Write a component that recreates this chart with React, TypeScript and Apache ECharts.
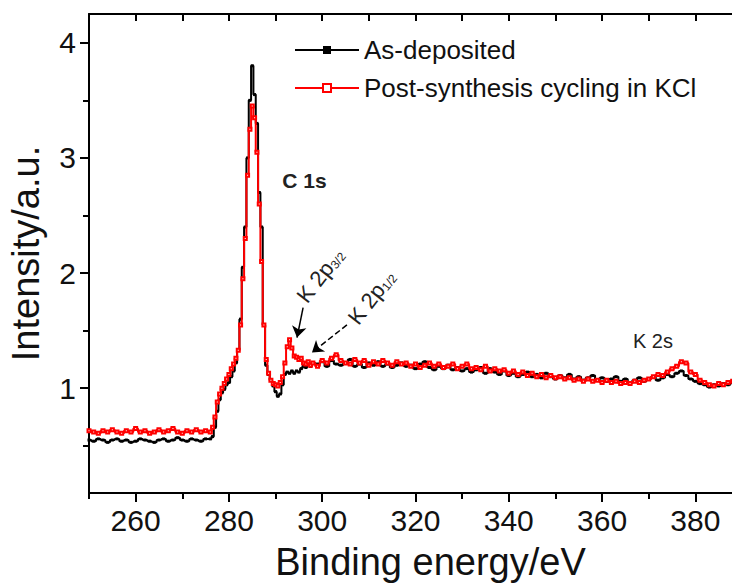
import React, { useEffect, useRef } from "react";
import * as echarts from "echarts";

// Binding energies (eV)
const energies: number[] = [
  250, 251, 252, 253, 254, 255, 256, 257, 258, 259, 260, 261, 262, 263, 264, 265, 266, 267, 268, 269, 270, 271, 272, 273, 274, 275,
  276, 276.5, 277, 277.5, 278, 278.5, 279, 279.5, 280, 280.5, 281, 281.5, 282, 282.5, 283, 283.5, 284, 284.5, 285, 285.5,
  286, 286.5, 287, 287.5, 288, 288.5, 289, 289.5, 290, 290.5, 291, 291.5, 292, 292.5, 293, 293.5, 294, 294.5, 295, 295.5,
  296, 296.5, 297, 297.5, 298,
  299, 300, 301, 302, 303, 304, 305, 306, 307, 308, 309, 310, 311, 312, 313, 314, 315, 316, 317, 318, 319, 320,
  321, 322, 323, 324, 325, 326, 327, 328, 329, 330, 331, 332, 333, 334, 335, 336, 337, 338, 339, 340,
  341, 342, 343, 344, 345, 346, 347, 348, 349, 350, 351, 352, 353, 354, 355, 356, 357, 358, 359, 360,
  361, 362, 363, 364, 365, 366, 367, 368, 369, 370, 371, 372, 373, 374, 375, 376, 377, 378, 379, 380,
  381, 382, 383, 384, 385, 386, 387, 388, 389, 390,
];

// As-deposited
const asDeposited: number[] = [
  0.55, 0.54, 0.56, 0.55, 0.53, 0.55, 0.56, 0.54, 0.55, 0.53, 0.54, 0.56, 0.55, 0.54, 0.53, 0.55, 0.56, 0.54, 0.55, 0.57, 0.55, 0.54, 0.56, 0.55, 0.54, 0.56,
  0.56, 0.58, 0.66, 0.8, 0.9, 0.96, 0.99, 1.03, 1.05, 1.1, 1.15, 1.22, 1.33, 1.6, 2.05, 2.4, 3.0, 3.5, 3.8, 3.55,
  3.3, 2.7, 2.4, 1.55, 1.2, 1.12, 1.07, 1.02, 0.97, 0.93, 0.95, 1.03, 1.12, 1.14, 1.13, 1.15, 1.13, 1.15, 1.14, 1.17,
  1.19, 1.18, 1.21, 1.19, 1.22,
  1.21, 1.23, 1.19, 1.24, 1.21, 1.2, 1.22, 1.25, 1.19, 1.21, 1.18, 1.22, 1.2, 1.23, 1.19, 1.21, 1.18, 1.2, 1.22, 1.19, 1.2, 1.17,
  1.21, 1.23, 1.18, 1.16, 1.19, 1.17, 1.2, 1.16, 1.18, 1.15, 1.17, 1.14, 1.16, 1.18, 1.13, 1.17, 1.14, 1.12, 1.15, 1.11,
  1.13, 1.1, 1.12, 1.14, 1.1, 1.12, 1.09, 1.13, 1.1, 1.08, 1.11, 1.09, 1.12, 1.08, 1.1, 1.07, 1.09, 1.11, 1.07, 1.09,
  1.06, 1.08, 1.1, 1.06, 1.08, 1.05, 1.07, 1.09, 1.06, 1.08, 1.1, 1.07, 1.09, 1.12, 1.1, 1.13, 1.15, 1.11, 1.08, 1.06,
  1.04, 1.03, 1.01, 1.03, 1.02, 1.04, 1.03, 1.05, 1.04, 1.06,
];

// Post-synthesis cycling in KCl
const cycledKCl: number[] = [
  0.63, 0.62, 0.61, 0.63, 0.62, 0.64, 0.62, 0.61, 0.63, 0.62, 0.65, 0.62, 0.63, 0.61, 0.62, 0.64, 0.62, 0.63, 0.65, 0.62, 0.61, 0.63, 0.62, 0.64, 0.62, 0.63,
  0.62, 0.66, 0.75, 0.88, 0.95, 1.0, 1.04, 1.08, 1.12, 1.17, 1.21, 1.26, 1.33, 1.55, 1.95, 2.3, 2.85, 3.25, 3.45, 3.35,
  3.05, 2.6, 2.1, 1.55, 1.25, 1.13, 1.07, 1.04, 1.03, 1.02, 1.05, 1.1, 1.22, 1.36, 1.42, 1.35, 1.28, 1.27, 1.25, 1.26,
  1.22, 1.21, 1.23, 1.2, 1.22,
  1.19, 1.24, 1.22, 1.26, 1.29, 1.24, 1.22, 1.21, 1.25, 1.22, 1.24, 1.2, 1.23, 1.21, 1.24, 1.22, 1.2, 1.23, 1.21, 1.22, 1.19, 1.21,
  1.18, 1.2, 1.22, 1.19, 1.21, 1.18, 1.19, 1.21, 1.17, 1.19, 1.21, 1.17, 1.18, 1.16, 1.19, 1.15, 1.17, 1.15, 1.16, 1.13,
  1.15, 1.12, 1.14, 1.11, 1.13, 1.1, 1.12, 1.09, 1.11, 1.09, 1.1, 1.08, 1.09, 1.07, 1.08, 1.06, 1.08, 1.06, 1.07, 1.05,
  1.07, 1.05, 1.06, 1.04, 1.05, 1.04, 1.06, 1.05, 1.07, 1.08, 1.1, 1.12, 1.11, 1.14, 1.17, 1.19, 1.23, 1.22, 1.14, 1.12,
  1.07, 1.05, 1.03, 1.02, 1.04, 1.03, 1.05, 1.06, 1.05, 1.07,
];

const seriesNames = ["As-deposited", "Post-synthesis cycling in KCl"];
const xMajorTicks = [260, 280, 300, 320, 340, 360, 380];
const xMinorTicks = [250, 270, 290, 310, 330, 350, 370, 390];
const xTopTicks = [260, 270, 280, 290, 300, 310, 320, 330, 340, 350, 360, 370, 380];
const yMajorTicks = [1, 2, 3, 4];
const yMinorTicks = [0.5, 1.5, 2.5, 3.5];

const FONT = "'Liberation Sans', Arial, sans-serif";
const INK = "#111";

export default function App() {
  const ref = useRef<HTMLDivElement>(null);
  useEffect(() => {
    if (!ref.current) return;
    const chart = echarts.init(ref.current, undefined, { renderer: "svg" });
    const pairs = (vals: number[]) => energies.map((e, i) => [e, vals[i]]);
    const xCommon = { type: "value", min: 250, max: 390, splitLine: { show: false } };
    const yCommon = { type: "value", min: 0.09, max: 4.25, splitLine: { show: false } };
    const subRich = {
      a: { fontSize: 22, color: "#222", fontFamily: FONT },
      b: { fontSize: 12, color: "#222", fontFamily: FONT, verticalAlign: "bottom" },
    };
    const option: any = {
      animation: false,
      textStyle: { fontFamily: FONT },
      grid: { left: 89, top: 14, width: 653, height: 479, containLabel: false, outerBoundsMode: "none" },
      legend: {
        orient: "vertical",
        left: 289,
        top: 32,
        itemWidth: 64,
        itemHeight: 10,
        itemGap: 12,
        data: seriesNames,
        textStyle: { fontSize: 26, color: INK, fontFamily: FONT },
      },
      xAxis: [
        {
          ...xCommon,
          position: "bottom",
          axisLine: { show: true, lineStyle: { color: "#000", width: 2 } },
          axisTick: { show: true, customValues: xMajorTicks, length: 9, lineStyle: { color: "#000", width: 2 } },
          axisLabel: { customValues: xMajorTicks, fontSize: 30, color: INK, margin: 12, fontFamily: FONT },
          name: "Binding energy/eV",
          nameLocation: "middle",
          nameGap: 50,
          nameTextStyle: { fontSize: 38, color: INK, fontFamily: FONT, padding: [0, 0, 0, 30] },
        },
        {
          ...xCommon,
          position: "bottom",
          axisLine: { show: false },
          axisTick: { show: true, customValues: xMinorTicks, length: 6, lineStyle: { color: "#000", width: 2 } },
          axisLabel: { show: false },
        },
        {
          ...xCommon,
          position: "top",
          axisLine: { show: true, lineStyle: { color: "#000", width: 2 } },
          axisTick: { show: true, inside: true, customValues: xTopTicks, length: 7, lineStyle: { color: "#000", width: 2 } },
          axisLabel: { show: false },
        },
      ],
      yAxis: [
        {
          ...yCommon,
          position: "left",
          axisLine: { show: true, lineStyle: { color: "#000", width: 2 } },
          axisTick: { show: true, customValues: yMajorTicks, length: 9, lineStyle: { color: "#000", width: 2 } },
          axisLabel: { customValues: yMajorTicks, fontSize: 30, color: INK, margin: 13, fontFamily: FONT },
          name: "Intensity/a.u.",
          nameLocation: "middle",
          nameGap: 44,
          nameTextStyle: { fontSize: 38, color: INK, fontFamily: FONT },
        },
        {
          ...yCommon,
          position: "left",
          axisLine: { show: false },
          axisTick: { show: true, customValues: yMinorTicks, length: 6, lineStyle: { color: "#000", width: 2 } },
          axisLabel: { show: false },
        },
        {
          ...yCommon,
          position: "right",
          axisLine: { show: true, lineStyle: { color: "#000", width: 2 } },
          axisTick: { show: false },
          axisLabel: { show: false },
        },
      ],
      series: [
        {
          name: seriesNames[0],
          type: "line",
          step: "middle",
          data: pairs(asDeposited),
          symbol: "rect",
          symbolSize: 3,
          showAllSymbol: true,
          itemStyle: { color: "#000" },
          lineStyle: { color: "#000", width: 2 },
          z: 2,
          markLine: {
            silent: true,
            symbol: ["none", "arrow"],
            symbolSize: 11,
            label: { show: false },
            lineStyle: { color: "#000", width: 1.5, type: "solid" },
            data: [
              [{ coord: [295.9, 1.7] }, { coord: [294.6, 1.44] }],
              [{ coord: [305.3, 1.55], lineStyle: { type: "dashed", width: 1.5 } }, { coord: [297.8, 1.31] }],
            ],
          },
          markPoint: {
            silent: true,
            symbol: "rect",
            symbolSize: 0,
            data: [
              { coord: [296.2, 2.8], label: { show: true, position: "inside", formatter: "C 1s", fontSize: 21, fontWeight: "bold", color: "#222" } },
              { coord: [370.9, 1.41], label: { show: true, position: "inside", formatter: "K 2s", fontSize: 20, color: "#222" } },
              {
                coord: [299.6, 1.98],
                label: { show: true, position: "inside", rotate: 52, formatter: "{a|K 2p}{b|3/2}", color: "#222", rich: subRich },
              },
              {
                coord: [310.6, 1.79],
                label: { show: true, position: "inside", rotate: 52, formatter: "{a|K 2p}{b|1/2}", color: "#222", rich: subRich },
              },
            ],
          },
        },
        {
          name: seriesNames[1],
          type: "line",
          step: "middle",
          data: pairs(cycledKCl),
          symbol: "emptyRect",
          symbolSize: 3,
          showAllSymbol: true,
          itemStyle: { color: "#ff0000", borderWidth: 1 },
          lineStyle: { color: "#ff0000", width: 2 },
          z: 3,
        },
      ],
    };
    chart.setOption(option);
    return () => chart.dispose();
  }, []);
  return (
    <div
      ref={ref}
      style={{ position: "fixed", left: 0, top: 0, width: 760, height: 585, background: "#fff" }}
    />
  );
}
